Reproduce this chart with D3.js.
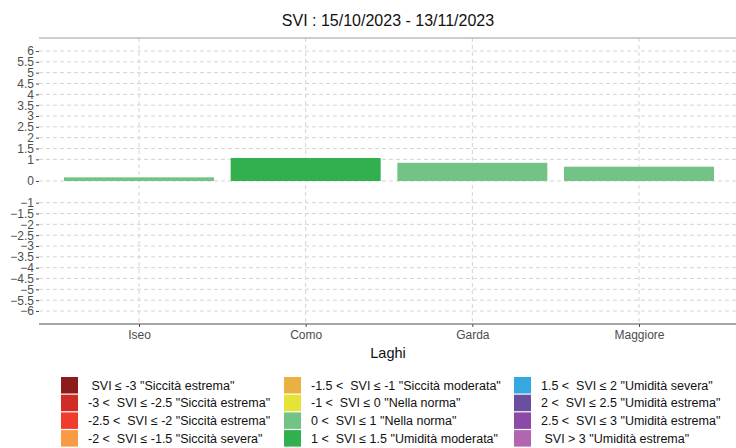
<!DOCTYPE html>
<html><head><meta charset="utf-8">
<script src="https://cdn.jsdelivr.net/npm/d3@7"></script>
<style>
body{margin:0;background:#fff;}
svg{display:block;font-family:"Liberation Sans",Arial,sans-serif;}
.lg{white-space:pre;}
</style></head><body>
<svg id="c" width="736" height="448"></svg>
<script>
const title = "SVI : 15/10/2023 - 13/11/2023";
const xTitle = "Laghi";
const lakes = ["Iseo","Como","Garda","Maggiore"];
const sviValues = [0.17, 1.06, 0.84, 0.66];
const barColors = ["#73c386","#31b04d","#73c386","#73c386"];
const yTicks = [6,5.5,5,4.5,4,3.5,3,2.5,2,1.5,1,0,-1,-1.5,-2,-2.5,-3,-3.5,-4,-4.5,-5,-5.5,-6];
const legendLabels = [
 " SVI ≤ -3 \"Siccità estrema\"",
 "-3 <  SVI ≤ -2.5 \"Siccità estrema\"",
 "-2.5 <  SVI ≤ -2 \"Siccità estrema\"",
 "-2 <  SVI ≤ -1.5 \"Siccità severa\"",
 "-1.5 <  SVI ≤ -1 \"Siccità moderata\"",
 "-1 <  SVI ≤ 0 \"Nella norma\"",
 "0 <  SVI ≤ 1 \"Nella norma\"",
 "1 <  SVI ≤ 1.5 \"Umidità moderata\"",
 "1.5 <  SVI ≤ 2 \"Umidità severa\"",
 "2 <  SVI ≤ 2.5 \"Umidità estrema\"",
 "2.5 <  SVI ≤ 3 \"Umidità estrema\"",
 " SVI > 3 \"Umidità estrema\""
];
const legendColors = ["#8e1b1b","#d02b27","#f03c2b","#f89b46","#e8b142","#e4e336","#73c386","#31b04d","#36a8e0","#6a4e9f","#8a4aa6","#b465b0"];

const svg = d3.select("#c");
const L = 39, R = 739, T = 38, B = 324;
const step = (R-L)/(lakes.length-1+1.2);
const cx = d => L + step*(lakes.indexOf(d)+0.6);
const y = d3.scaleLinear().domain([-6.6,6.6]).range([B,T]);

// gridlines
svg.append("g").selectAll("line").data(yTicks).join("line")
  .attr("x1",L).attr("x2",R).attr("y1",d=>y(d)).attr("y2",d=>y(d))
  .attr("stroke","#d4d4d4").attr("stroke-dasharray","4,3").attr("stroke-width",1);
svg.append("g").selectAll("line").data(lakes).join("line")
  .attr("x1",d=>cx(d)).attr("x2",d=>cx(d)).attr("y1",T).attr("y2",B)
  .attr("stroke","#d4d4d4").attr("stroke-dasharray","4,3").attr("stroke-width",1);

// bars
const bw = step*0.9;
svg.append("g").selectAll("rect").data(lakes).join("rect")
  .attr("x",d=>cx(d)-bw/2).attr("width",bw)
  .attr("y",(d,i)=>y(Math.max(0,sviValues[i])))
  .attr("height",(d,i)=>Math.abs(y(sviValues[i])-y(0)))
  .attr("fill",(d,i)=>barColors[i]);

// top border and bottom axis line
svg.append("line").attr("x1",L).attr("x2",736).attr("y1",T).attr("y2",T).attr("stroke","#9a9a9a").attr("stroke-width",1);
svg.append("line").attr("x1",L).attr("x2",736).attr("y1",B).attr("y2",B).attr("stroke","#8a8a8a").attr("stroke-width",1.5);

// y axis
const yAxis = d3.axisLeft(y).tickValues(yTicks).tickSize(3).tickPadding(2).tickFormat(d3.format("~g"));
const ya = svg.append("g").attr("transform",`translate(${L},0)`).call(yAxis);
ya.select(".domain").remove();
ya.selectAll("line").attr("stroke","#4d4d4d");
ya.selectAll("text").attr("fill","#4d4d4d").attr("font-size",12).attr("font-family","Liberation Sans, Arial, sans-serif");

// x axis
const xs = d3.scalePoint().domain(lakes).range([cx(lakes[0]),cx(lakes[lakes.length-1])]);
const xa = svg.append("g").attr("transform",`translate(0,${B})`).call(d3.axisBottom(xs).tickSize(3).tickPadding(3));
xa.select(".domain").remove();
xa.selectAll("line").attr("stroke","#4d4d4d");
xa.selectAll("text").attr("fill","#4d4d4d").attr("font-size",12).attr("font-family","Liberation Sans, Arial, sans-serif");

// titles
svg.append("text").attr("x",388).attr("y",26).attr("text-anchor","middle").attr("font-size",16).attr("fill","#111").text(title);
svg.append("text").attr("x",388).attr("y",358).attr("text-anchor","middle").attr("font-size",14.5).attr("fill","#111").text(xTitle);

// legend
const colX = [61, 284, 514];
const rowY0 = 377, pitch = 17.7;
const lg = svg.append("g");
legendLabels.forEach((lab,i)=>{
  const c = Math.floor(i/4), r = i%4;
  const gx = colX[c], gy = rowY0 + r*pitch;
  lg.append("rect").attr("x",gx).attr("y",gy).attr("width",17).attr("height",16.5).attr("fill",legendColors[i]);
  lg.append("text").attr("class","lg").attr("x",gx+27).attr("y",gy+12.7).attr("font-size",12.5).attr("fill","#111").text(lab);
});
</script>
</body></html>
